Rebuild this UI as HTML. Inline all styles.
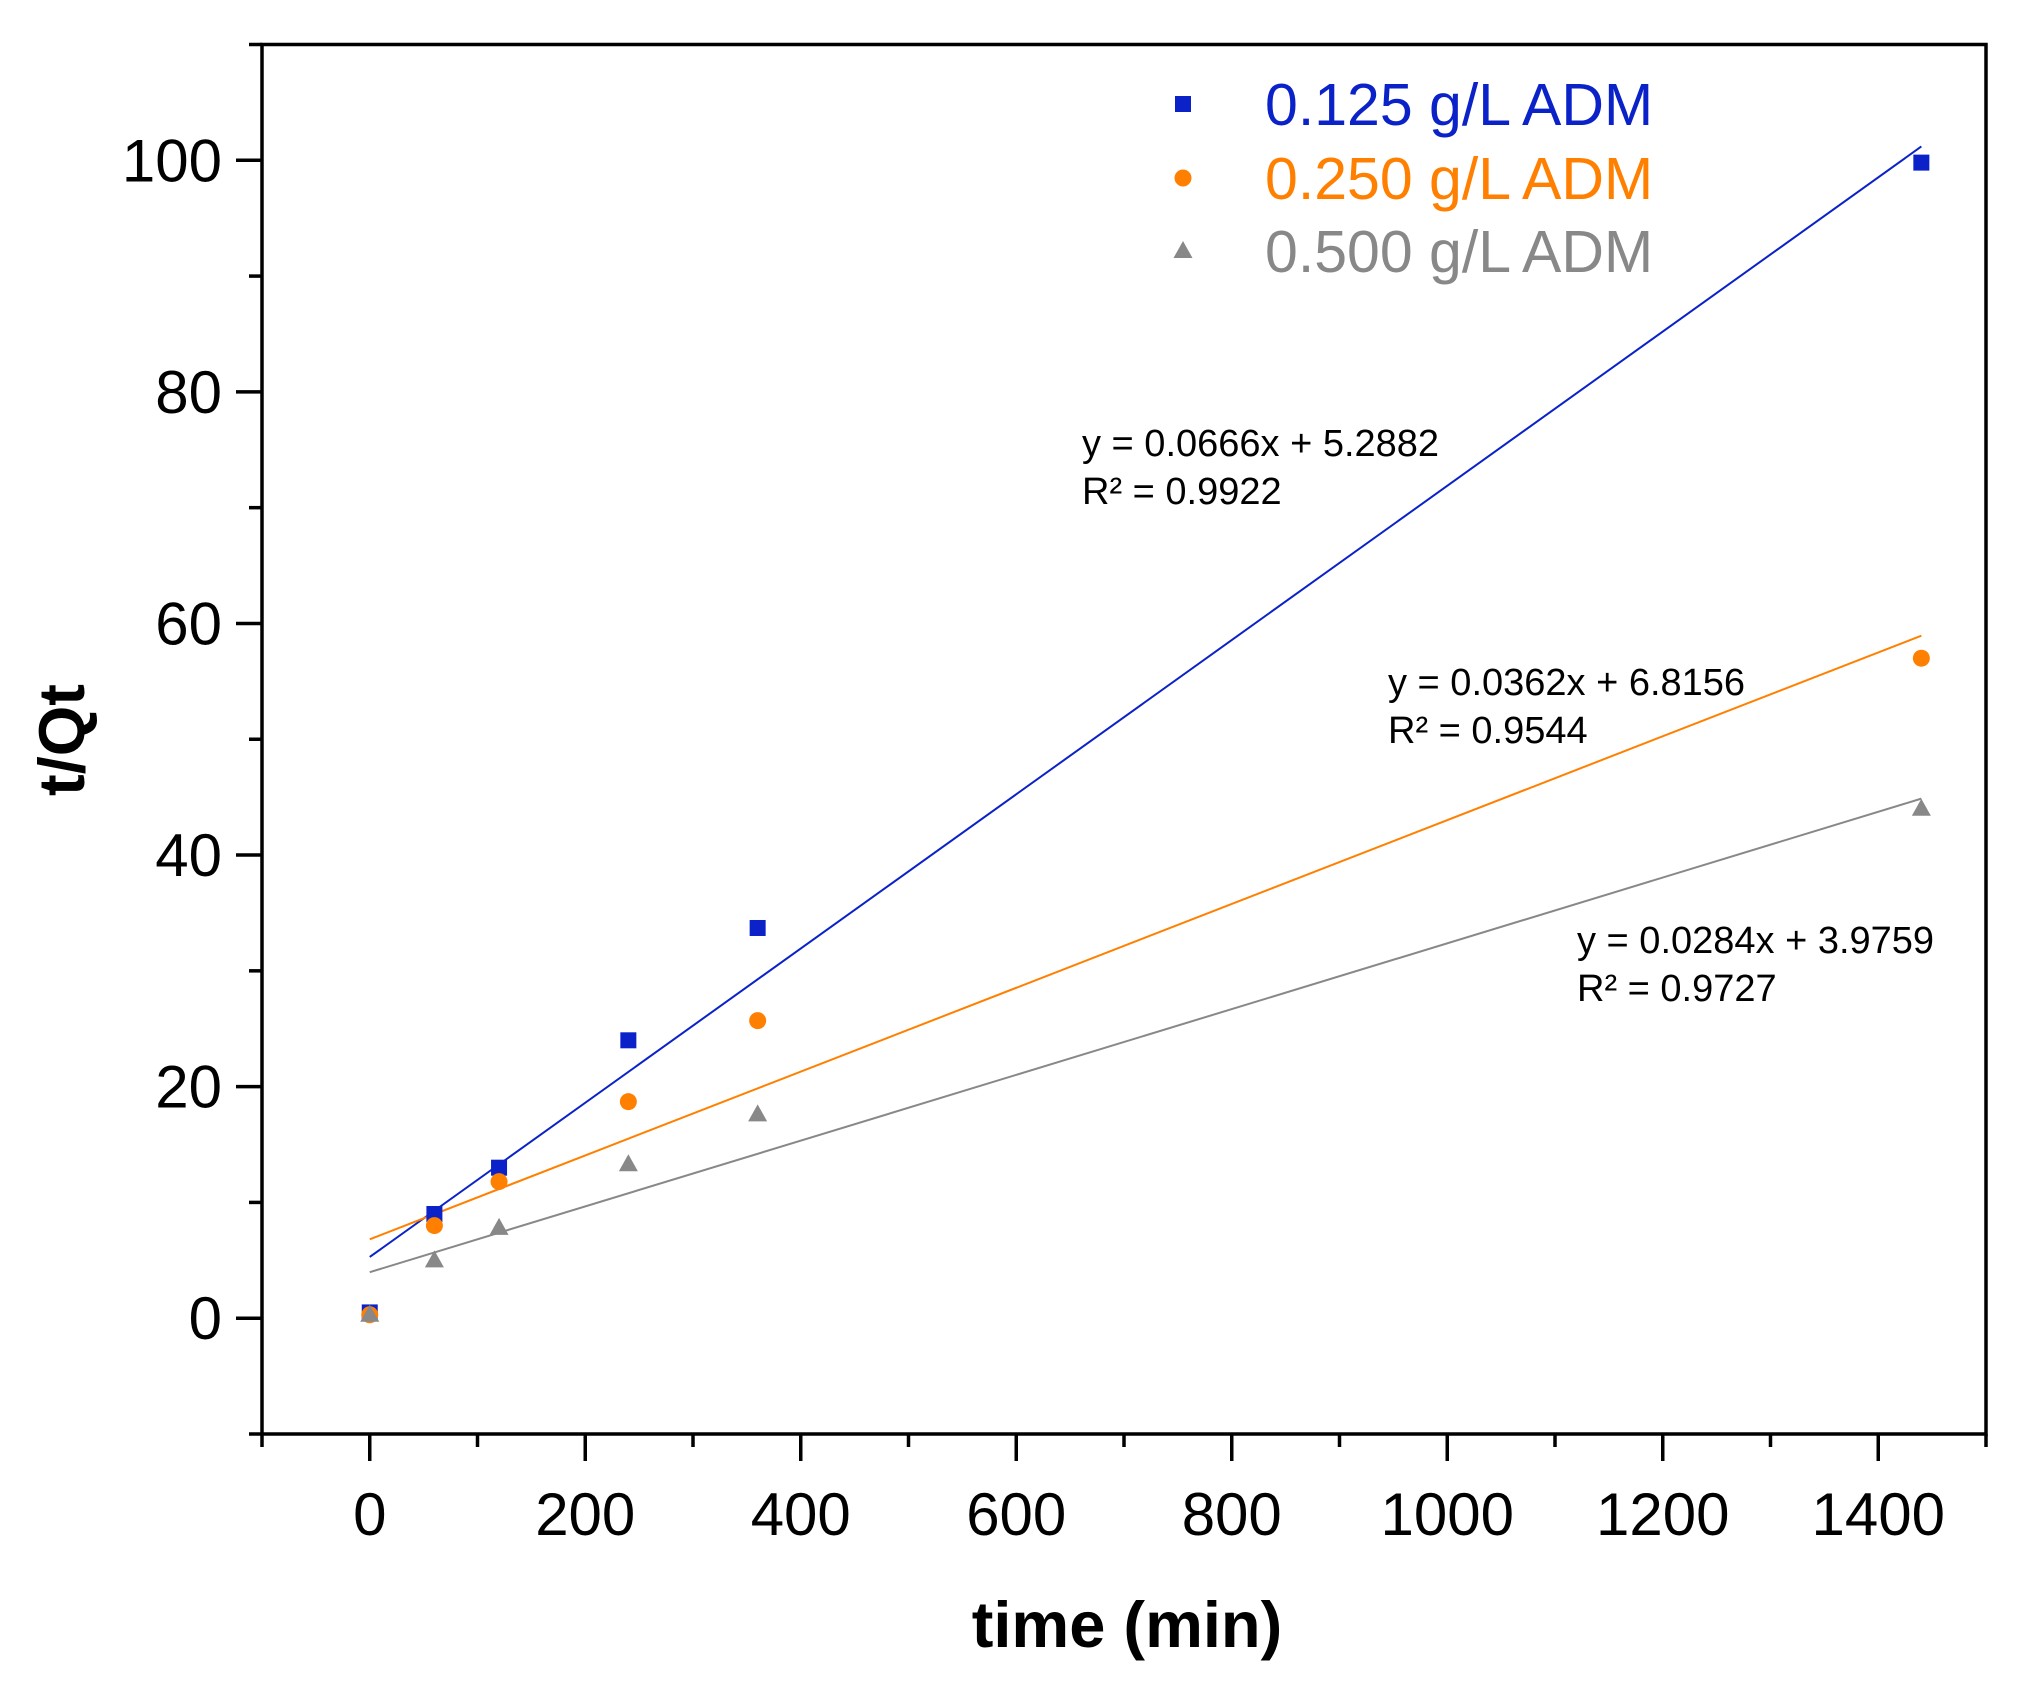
<!DOCTYPE html>
<html><head><meta charset="utf-8"><style>
body{margin:0;background:#fff}
svg{display:block;font-family:"Liberation Sans",Arial,sans-serif}
</style></head><body>
<svg id="chart" width="2033" height="1682" viewBox="0 0 2033 1682" xmlns="http://www.w3.org/2000/svg">
<g id="marks"></g>
<g id="axes"></g>
</svg>
<script>
const xValues=[0,60,120,240,360,1440];
const blueValues=[0.5,9,13,24,33.7,99.8];
const orangeValues=[0.3,8,11.8,18.7,25.7,57];
const grayValues=[0.3,5,7.8,13.3,17.6,44];
const fits=[[0.0666,5.2882],[0.0362,6.8156],[0.0284,3.9759]];
const xTicks=[0,200,400,600,800,1000,1200,1400];
const yTicks=[0,20,40,60,80,100];
const seriesNames=["0.125 g/L ADM","0.250 g/L ADM","0.500 g/L ADM"];
const eqLabels=[["y = 0.0666x + 5.2882","R² = 0.9922"],["y = 0.0362x + 6.8156","R² = 0.9544"],["y = 0.0284x + 3.9759","R² = 0.9727"]];

const L=262,R=1986,T=44.5,B=1434;
const X0=-100,X1=1500,Y0=-10,Y1=110;
const sx=v=>L+(v-X0)/(X1-X0)*(R-L);
const sy=v=>B-(v-Y0)/(Y1-Y0)*(B-T);
const NS="http://www.w3.org/2000/svg";
const marks=document.getElementById('marks'),axes=document.getElementById('axes');
function mk(tag,attrs,parent,text){const e=document.createElementNS(NS,tag);for(const k in attrs)e.setAttribute(k,attrs[k]);if(text!==undefined)e.textContent=text;parent.appendChild(e);return e;}
const colors=["#0a22c8","#ff8000","#888888"];
const series=[blueValues,orangeValues,grayValues];
fits.forEach((f,i)=>{
 const l=mk('line',{x1:sx(0),y1:sy(f[1]),x2:sx(1440),y2:sy(f[0]*1440+f[1]),stroke:colors[i],'stroke-width':2},marks);
 
 
});
function marker(kind,cx,cy,c,parent){
 let e;
 if(kind===0)e=mk('rect',{x:cx-8,y:cy-8,width:16,height:16,fill:c},parent);
 else if(kind===1)e=mk('circle',{cx:cx,cy:cy,r:8.5,fill:c},parent);
 else e=mk('polygon',{points:`${cx},${cy-10} ${cx+9.5},${cy+7} ${cx-9.5},${cy+7}`,fill:c},parent);
 return e;
}
series.forEach((s,i)=>{
 s.forEach((v,j)=>{
  const m=marker(i,sx(xValues[j]),sy(v),colors[i],marks);
  
  
 });
});
const fr=mk('rect',{x:L,y:T,width:R-L,height:B-T,fill:'none',stroke:'#000','stroke-width':3.5},axes);


for(let v=-10;v<=110;v+=10){
 const major=yTicks.includes(v);
 mk('line',{x1:L-(major?26:13),x2:L,y1:sy(v),y2:sy(v),stroke:'#000','stroke-width':3.5},axes);
}
yTicks.forEach(v=>{
 const t=mk('text',{x:L-40,y:sy(v)+21,'text-anchor':'end','font-size':60},axes,String(v));
 
 
});
for(let v=-100;v<=1500;v+=100){
 const major=xTicks.includes(v);
 mk('line',{x1:sx(v),x2:sx(v),y1:B,y2:B+(major?27:13),stroke:'#000','stroke-width':3.5},axes);
}
xTicks.forEach(v=>{
 const t=mk('text',{x:sx(v),y:1535,'text-anchor':'middle','font-size':60},axes,String(v));
 
 
});
const xt=mk('text',{x:1127,y:1647,'text-anchor':'middle','font-size':65,'font-weight':'bold'},axes,'time (min)');


const yt=mk('text',{x:0,y:0,'text-anchor':'middle','font-size':65,'font-weight':'bold',transform:'translate(84,740) rotate(-90)'},axes,'t/Qt');


const ly=[104,178,251];
seriesNames.forEach((n,i)=>{
 const m=marker(i,1183,ly[i],colors[i],axes);
 
 
 const t=mk('text',{x:1265,y:ly[i]+21,'font-size':59,fill:colors[i]},axes,n);
 
 
});
const eqPos=[[1082,444],[1388,683],[1577,941]];
eqLabels.forEach((e,i)=>{
 e.forEach((s,k)=>{
  const t=mk('text',{x:eqPos[i][0],y:eqPos[i][1]+12+k*48,'font-size':38},axes,s);
  
  
 });
});
</script>
</body></html>
